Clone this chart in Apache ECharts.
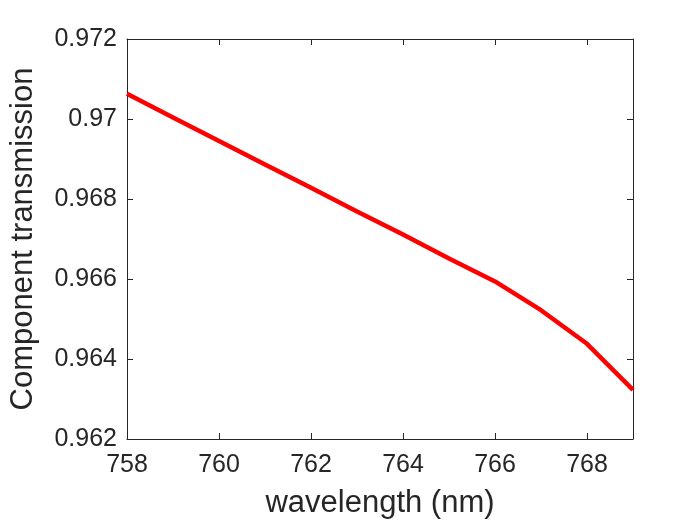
<!DOCTYPE html>
<html>
<head>
<meta charset="utf-8">
<script src="https://cdn.jsdelivr.net/npm/echarts@6/dist/echarts.min.js"></script>
<style>
  html, body { margin: 0; padding: 0; background: #fff; }
  #main { width: 700px; height: 525px; }
</style>
</head>
<body>
<div id="main"></div>
<script>
  // values
  const wavelength = [758, 759, 760, 761, 762, 763, 764, 765, 766, 767, 768, 769]
  const transmission = [0.97063, 0.97004, 0.96945, 0.96886, 0.96828, 0.96769,
    0.96711, 0.96651, 0.96594, 0.96522, 0.96438, 0.96323]

  const axisColor = '#262626'
  const font = 'Liberation Sans, Arial, sans-serif'

  let myChart = echarts.init(document.getElementById('main'))

  let points = wavelength.map((w, i) => [w, transmission[i]])

  // top / right axes only draw the box and the inner ticks
  function frameAxis(pos) {
    return {
      type: 'value',
      position: pos,
      min: pos === 'top' ? 758 : 0.962,
      max: pos === 'top' ? 769 : 0.972,
      interval: pos === 'top' ? 2 : 0.002,
      axisLine: { show: true, lineStyle: { color: axisColor, width: 1 } },
      axisTick: { show: true, inside: true, length: 6, lineStyle: { color: axisColor } },
      axisLabel: { show: false },
      splitLine: { show: false }
    }
  }

  let option = {
    animation: false,
    grid: {
      left: 125,
      right: 67,
      top: 39,
      bottom: 86
    },
    xAxis: [
      {
        type: 'value',
        min: 758,
        max: 769,
        interval: 2,
        name: 'wavelength (nm)',
        nameLocation: 'middle',
        nameGap: 49,
        nameTextStyle: { fontFamily: font, fontSize: 31, color: axisColor },
        axisLine: { show: true, onZero: false, lineStyle: { color: axisColor, width: 1 } },
        axisTick: { show: true, inside: true, length: 6, lineStyle: { color: axisColor } },
        axisLabel: { fontFamily: font, fontSize: 25, color: axisColor, margin: 14, showMaxLabel: false },
        splitLine: { show: false }
      },
      frameAxis('top')
    ],
    yAxis: [
      {
        type: 'value',
        min: 0.962,
        max: 0.972,
        interval: 0.002,
        name: 'Component transmission',
        nameLocation: 'middle',
        nameGap: 88,
        nameTextStyle: { fontFamily: font, fontSize: 31, color: axisColor },
        axisLine: { show: true, onZero: false, lineStyle: { color: axisColor, width: 1 } },
        axisTick: { show: true, inside: true, length: 6, lineStyle: { color: axisColor } },
        axisLabel: {
          fontFamily: font,
          fontSize: 25,
          color: axisColor,
          margin: 10,
          formatter: v => String(parseFloat(v.toFixed(3)))
        },
        splitLine: { show: false }
      },
      frameAxis('right')
    ],
    series: [
      {
        type: 'line',
        data: points,
        symbol: 'none',
        lineStyle: { width: 4.5, color: '#ff0000' }
      }
    ]
  }
  myChart.setOption(option)
</script>
</body>
</html>
